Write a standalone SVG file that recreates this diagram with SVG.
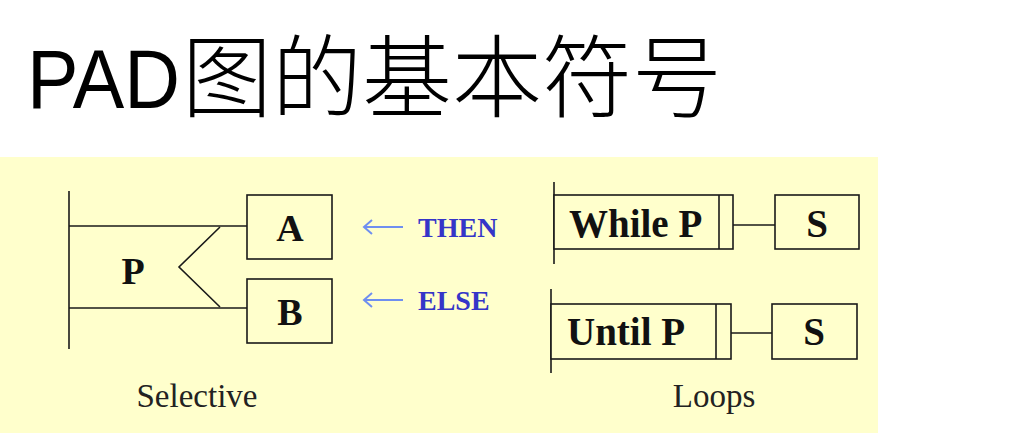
<svg xmlns="http://www.w3.org/2000/svg" width="1012" height="433" viewBox="0 0 1012 433">
<style>
.ln{stroke:#1a1a1a;stroke-width:1.6;fill:none}
.box{stroke:#1a1a1a;stroke-width:1.6;fill:#ffffcc}
.b{font-family:"Liberation Serif","Times New Roman",serif;font-weight:bold;fill:#111}
.r{font-family:"Liberation Serif","Times New Roman",serif;fill:#222;font-size:33px}
.kw{font-family:"Liberation Serif",serif;font-weight:bold;font-size:28px;fill:#3535c8}
.ar{stroke:#6f8ff0;stroke-width:2;fill:none}
</style>
<rect width="1012" height="433" fill="#ffffff"/>
<rect x="0" y="157" width="878" height="276" fill="#ffffcc"/>
<text id="title" y="108" font-size="88" fill="#000" font-family="'Liberation Sans','Noto Sans CJK SC',sans-serif"><tspan x="27" font-size="84" textLength="153" lengthAdjust="spacingAndGlyphs">PAD</tspan><tspan x="182" y="110" font-family="'Noto Sans CJK SC',sans-serif" font-size="90" font-weight="300">图的基本符号</tspan></text>

<g id="connectors">
<path class="ln" d="M69,191 V349"/>
<path class="ln" d="M69,226 H247"/>
<path class="ln" d="M69,308 H247"/>
<path class="ln" d="M220,227 L179,267 L220,307"/>
<path class="ln" d="M554,182 V264"/>
<path class="ln" d="M733,225 H775"/>
<path class="ln" d="M551,289 V373"/>
<path class="ln" d="M731,333 H772"/>
<path class="ar" d="M403,227 H364 M372,220 L364,227 L372,234"/>
<path class="ar" d="M403,300 H364 M372,293 L364,300 L372,307"/>
</g>

<g id="selective">
<g id="nodeP"><text class="b" x="133" y="284" font-size="38" text-anchor="middle">P</text></g>
<g id="nodeA"><rect class="box" x="247" y="195" width="85" height="64"/><text class="b" x="290" y="241" font-size="38" text-anchor="middle">A</text></g>
<g id="nodeB"><rect class="box" x="247" y="279" width="85" height="64"/><text class="b" x="290" y="325" font-size="38" text-anchor="middle">B</text></g>
<g id="then"><text class="kw" x="418" y="237">THEN</text></g>
<g id="else"><text class="kw" x="418" y="310">ELSE</text></g>
<text class="r" x="197" y="407" text-anchor="middle">Selective</text>
</g>

<g id="loops">
<g id="whileP"><rect class="box" x="554" y="195" width="179" height="54"/><path class="ln" d="M719,195 V249"/><text class="b" x="569" y="237" font-size="39">While P</text></g>
<g id="whileS"><rect class="box" x="775" y="195" width="84" height="54"/><text class="b" x="817" y="237" font-size="39" text-anchor="middle">S</text></g>
<g id="untilP"><rect class="box" x="551" y="304" width="180" height="55"/><path class="ln" d="M716,304 V359"/><text class="b" x="567" y="345" font-size="39">Until P</text></g>
<g id="untilS"><rect class="box" x="772" y="304" width="85" height="55"/><text class="b" x="814" y="345" font-size="39" text-anchor="middle">S</text></g>
<text class="r" x="714" y="407" text-anchor="middle">Loops</text>
</g>
</svg>
